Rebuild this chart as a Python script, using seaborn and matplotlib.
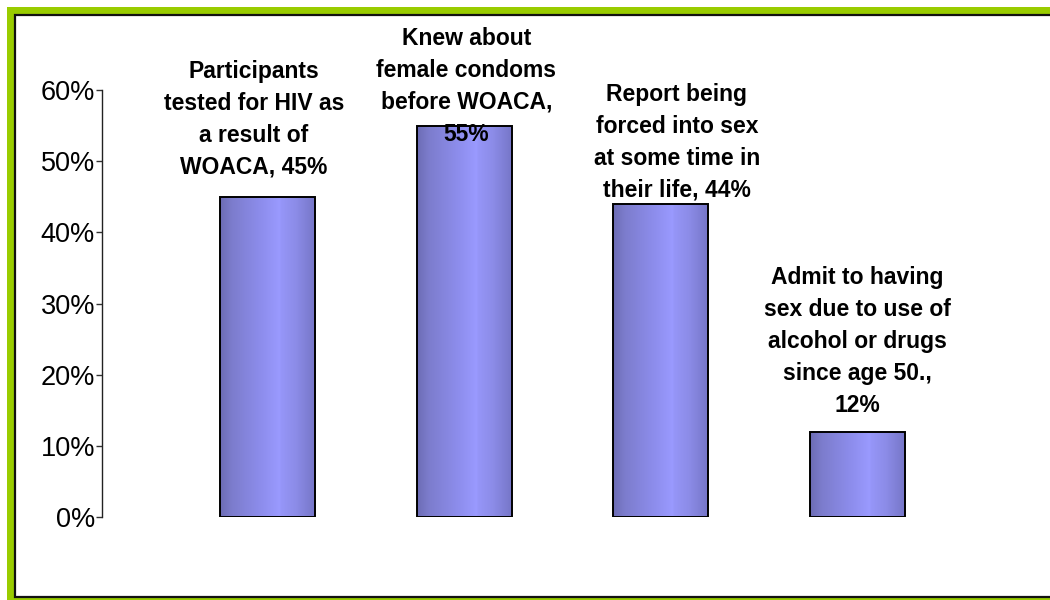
import numpy as np
import pandas as pd
import matplotlib
matplotlib.use("Agg")
import matplotlib.pyplot as plt
from matplotlib.patches import Rectangle
from matplotlib.colors import LinearSegmentedColormap
from matplotlib.ticker import PercentFormatter
import matplotlib.transforms as mtransforms
import seaborn as sns

# ---- data ----
categories = [
    "Participants\ntested for HIV as\na result of\nWOACA",
    "Knew about\nfemale condoms\nbefore WOACA",
    "Report being\nforced into sex\nat some time in\ntheir life",
    "Admit to having\nsex due to use of\nalcohol or drugs\nsince age 50.",
]
values = [0.45, 0.55, 0.44, 0.12]
value_sep = [", ", ",\n", ", ", ",\n"]
yticks = [0.0, 0.1, 0.2, 0.3, 0.4, 0.5, 0.6]

# ---- layout / style ----
label_dx_px = [-14, 2, 16, 0]
label_dy_px = [18, -20, 2, 15]

sns.set_theme(style="white")
plt.rcParams["font.family"] = ["Liberation Sans", "DejaVu Sans"]

fig = plt.figure(figsize=(10.5, 6), dpi=100)
fig.patch.set_facecolor("white")

# frame: green outer border with black inner line
fig.add_artist(Rectangle((7, -20), 1200, 613, transform=None, facecolor="#99cc00",
                         edgecolor="none", zorder=-3))
fig.add_artist(Rectangle((15, 3), 1200, 582, transform=None, facecolor="white",
                         edgecolor="#111111", linewidth=1.6, zorder=-2))

ax = fig.add_axes([102 / 1050, 83 / 600, (1040 - 102) / 1050, 427 / 600])
ax.set_facecolor("none")

df = pd.DataFrame({"cat": categories, "val": values})
sns.barplot(data=df, x="cat", y="val", color="#9999ff", width=0.483,
            edgecolor="black", linewidth=1.4, ax=ax)

xlim = (-0.844, 3.93)
ylim = (0, 0.6)

cmap = LinearSegmentedColormap.from_list(
    "bar", [(0.0, "#6c6cb4"), (0.12, "#7c7ccc"), (0.45, "#8e8eee"),
            (0.63, "#9a9aff"), (0.64, "#9696f8"), (0.8, "#8c8ce8"),
            (1.0, "#7676c8")])
grad = np.linspace(0, 1, 256).reshape(1, -1)
shadow_tr = mtransforms.offset_copy(ax.transData, fig=fig, x=0, y=-1.5, units="dots")
for p in list(ax.patches):
    x0, y0 = p.get_x(), p.get_y()
    w, h = p.get_width(), p.get_height()
    im = ax.imshow(grad, extent=[x0, x0 + w, y0, y0 + h], aspect="auto",
                   cmap=cmap, zorder=2, interpolation="bilinear")
    im.set_clip_path(p)
    p.set_facecolor("none")
    p.set_zorder(3)
    ax.plot([x0 + 0.12 * w, x0 + w], [y0, y0], color="black", lw=3,
            solid_capstyle="butt", transform=shadow_tr, zorder=3)

ax.set_xlim(*xlim)
ax.set_ylim(*ylim)

# labels
for i, (cat, v) in enumerate(zip(categories, values)):
    txt = f"{cat}{value_sep[i]}{v:.0%}"
    ax.annotate(txt, xy=(i, v), xytext=(label_dx_px[i], label_dy_px[i]),
                textcoords="offset pixels", ha="center", va="bottom",
                multialignment="center", fontsize=16.5, fontweight="bold",
                color="black", linespacing=1.5, zorder=5, annotation_clip=False)

ax.set_yticks(yticks)
ax.yaxis.set_major_formatter(PercentFormatter(1.0, decimals=0))
ax.tick_params(axis="y", direction="out", length=4, width=1, color="#333333",
               labelsize=19.5, labelcolor="black", pad=1, left=True)
ax.set_xticks([])
ax.set_xlabel("")
ax.set_ylabel("")
for s in ["top", "right", "bottom"]:
    ax.spines[s].set_visible(False)
ax.spines["left"].set_color("#222222")
ax.spines["left"].set_linewidth(1)
ax.spines["left"].set_bounds(0, 0.6)

fig.savefig("out.png", dpi=100, facecolor=fig.get_facecolor())
